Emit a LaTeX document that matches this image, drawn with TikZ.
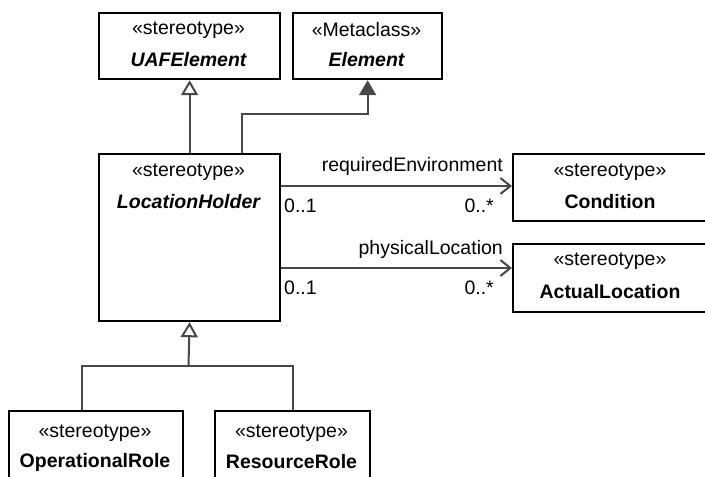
\documentclass[tikz,border=0pt]{standalone}
\usepackage{fontspec}
\setmainfont{Liberation Sans}
\usetikzlibrary{arrows.meta}
\definecolor{conncol}{HTML}{484848}
\begin{document}
\begin{tikzpicture}[x=1pt,y=-1pt,
  box/.style={draw=black, line width=2.2pt, inner sep=0pt, anchor=north west},
  txt/.style={inner sep=0pt, font=\fontsize{19.5}{22}\selectfont},
  nm/.style={txt, font=\fontsize{19.5}{22}\selectfont\bfseries},
  nmi/.style={txt, font=\fontsize{19.5}{22}\selectfont\bfseries\itshape},
  conn/.style={draw=conncol, line width=2pt},
  genarrow/.style={-{Triangle[open, length=15pt, width=17pt, line width=2pt]}},
  fillarrow/.style={-{Triangle[length=15pt, width=17pt, fill=conncol]}},
  assoc/.style={conn, -{Straight Barb[length=10pt, width=16pt, line width=2pt]}}
]
\useasboundingbox (0,0) rectangle (705,477);
\clip (0,0) rectangle (705,477);
\fill[white] (0,0) rectangle (705,477);

% boxes
\node[box, minimum width=181pt, minimum height=66pt] (uaf) at (98,12) {};
\node[box, minimum width=149pt, minimum height=66pt] (elem) at (292,12) {};
\node[box, minimum width=181pt, minimum height=167pt] (lh) at (98,153) {};
\node[box, minimum width=196pt, minimum height=67pt] (cond) at (512,153) {};
\node[box, minimum width=196pt, minimum height=68pt] (al) at (512,243) {};
\node[box, minimum width=174pt, minimum height=80pt] (or) at (8,410) {};
\node[box, minimum width=155pt, minimum height=80pt] (rr) at (214,410) {};

% box texts
\node[txt] (uafs) at (188.5,30) {«stereotype»};
\node[nmi] (uafn) at (188.5,60) {UAFElement};
\node[txt] (elems) at (366.5,30) {«Metaclass»};
\node[nmi] (elemn) at (366.5,60) {Element};
\node[txt] (lhs) at (188.5,172) {«stereotype»};
\node[nmi] (lhn) at (188.5,202) {LocationHolder};
\node[txt] (conds) at (610,172) {«stereotype»};
\node[nm] (condn) at (610,202) {Condition};
\node[txt] (als) at (610,261) {«stereotype»};
\node[nm] (aln) at (610,292) {ActualLocation};
\node[txt] (ors) at (95,433) {«stereotype»};
\node[nm] (orn) at (95,462) {OperationalRole};
\node[txt] (rrs) at (291.5,433) {«stereotype»};
\node[nm] (rrn) at (291.5,462) {ResourceRole};

% generalization LocationHolder -> UAFElement
\draw[conn, genarrow] (lh.north) -- (uaf.south);
% LocationHolder -> Element
\draw[conn, fillarrow] ([xshift=52.5pt]lh.north) -- ++(0,-39) -| (elem.south);

% associations
\coordinate (a1) at (0,186);
\coordinate (a2) at (0,268);
\draw[assoc] (lh.east |- a1) -- (cond.west |- a1);
\draw[assoc] (lh.east |- a2) -- (al.west |- a2);
\node[txt, anchor=east] (re) at (503,166) {requiredEnvironment};
\node[txt, anchor=west] (m1a) at (284,206) {0..1};
\node[txt, anchor=east] (m1b) at (494,206) {0..*};
\node[txt, anchor=east] (pl) at (503,249) {physicalLocation};
\node[txt, anchor=west] (m2a) at (284,288) {0..1};
\node[txt, anchor=east] (m2b) at (494,288) {0..*};

% generalization children -> LocationHolder
\coordinate (join) at (188.5,366);
\coordinate (orj) at (82,410);
\coordinate (rrj) at (293,410);
\draw[conn] (or.north -| orj) |- (join) -| (rr.north -| rrj);
\draw[conn, genarrow] (join) -- (lh.south);
\end{tikzpicture}
\end{document}
